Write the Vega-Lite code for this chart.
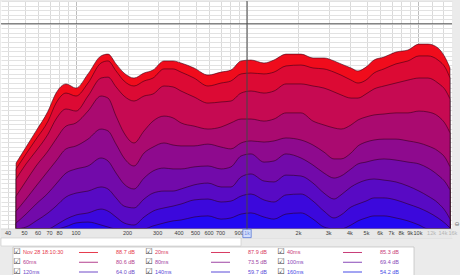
{
"$schema": "https://vega.github.io/schema/vega-lite/v6.json",
"padding": 0,
"spacing": 0,
"bounds": "flush",
"background": "#ebebeb",
"config": {"view": {"stroke": null}, "text": {"font": "Liberation Sans"}},
"resolve": {"scale": {"color": "independent", "x": "independent", "y": "independent"}},
"datasets": {
"wf": [
{"f":44.6,"t":0,"v":28.9},{"f":51,"t":0,"v":35.9},{"f":58.4,"t":0,"v":43.0},{"f":68.6,"t":0,"v":51.7},{"f":76.4,"t":0,"v":59.6},{"f":87.4,"t":0,"v":63.6},{"f":100,"t":0,"v":61.8},{"f":117.5,"t":0,"v":68.0},{"f":140,"t":0,"v":75.9},{"f":153.8,"t":0,"v":76.7},{"f":171.4,"t":0,"v":72.4},{"f":190.9,"t":0,"v":68.4},{"f":218.4,"t":0,"v":66.2},{"f":249.9,"t":0,"v":68.4},{"f":282,"t":0,"v":69.7},{"f":327,"t":0,"v":73.7},{"f":369,"t":0,"v":73.7},{"f":411,"t":0,"v":72.8},{"f":490,"t":0,"v":70.6},{"f":591,"t":0,"v":67.5},{"f":705,"t":0,"v":68.8},{"f":805,"t":0,"v":69.7},{"f":923,"t":0,"v":73.7},{"f":1055,"t":0,"v":74.1},{"f":1257,"t":0,"v":72.8},{"f":1438,"t":0,"v":74.1},{"f":1690,"t":0,"v":76.7},{"f":2069,"t":0,"v":76.7},{"f":2432,"t":0,"v":75.0},{"f":2819,"t":0,"v":75.0},{"f":3227,"t":0,"v":73.7},{"f":3546,"t":0,"v":72.4},{"f":4057,"t":0,"v":70.6},{"f":4457,"t":0,"v":69.3},{"f":4965,"t":0,"v":71.0},{"f":5531,"t":0,"v":74.1},{"f":6326,"t":0,"v":75.4},{"f":7431,"t":0,"v":77.6},{"f":8744,"t":0,"v":78.5},{"f":10140,"t":0,"v":81.1},{"f":11440,"t":0,"v":81.1},{"f":13090,"t":0,"v":79.4},{"f":14580,"t":0,"v":74.5},{"f":15390,"t":0,"v":70.6},
{"f":44.6,"t":20,"v":26.3},{"f":51,"t":20,"v":32.9},{"f":58.4,"t":20,"v":39.4},{"f":68.6,"t":20,"v":47.3},{"f":76.4,"t":20,"v":55.2},{"f":87.4,"t":20,"v":59.6},{"f":100,"t":20,"v":58.3},{"f":117.5,"t":20,"v":64.0},{"f":140,"t":20,"v":72.8},{"f":153.8,"t":20,"v":73.7},{"f":171.4,"t":20,"v":69.3},{"f":190.9,"t":20,"v":64.9},{"f":218.4,"t":20,"v":62.7},{"f":249.9,"t":20,"v":64.9},{"f":282,"t":20,"v":66.2},{"f":327,"t":20,"v":70.2},{"f":369,"t":20,"v":70.2},{"f":411,"t":20,"v":68.8},{"f":490,"t":20,"v":66.2},{"f":591,"t":20,"v":62.7},{"f":705,"t":20,"v":64.0},{"f":805,"t":20,"v":64.9},{"f":923,"t":20,"v":68.0},{"f":1055,"t":20,"v":68.4},{"f":1257,"t":20,"v":68.0},{"f":1438,"t":20,"v":68.8},{"f":1690,"t":20,"v":71.5},{"f":2069,"t":20,"v":71.9},{"f":2432,"t":20,"v":70.6},{"f":2819,"t":20,"v":70.2},{"f":3227,"t":20,"v":68.8},{"f":3546,"t":20,"v":67.5},{"f":4057,"t":20,"v":65.3},{"f":4457,"t":20,"v":64.0},{"f":4965,"t":20,"v":65.3},{"f":5531,"t":20,"v":68.4},{"f":6326,"t":20,"v":70.2},{"f":7431,"t":20,"v":72.4},{"f":8744,"t":20,"v":73.7},{"f":10140,"t":20,"v":75.9},{"f":11440,"t":20,"v":75.9},{"f":13090,"t":20,"v":74.1},{"f":14580,"t":20,"v":70.2},{"f":15390,"t":20,"v":66.2},
{"f":44.6,"t":40,"v":21.9},{"f":51,"t":40,"v":28.5},{"f":58.4,"t":40,"v":34.2},{"f":68.6,"t":40,"v":41.6},{"f":76.4,"t":40,"v":48.2},{"f":87.4,"t":40,"v":52.6},{"f":100,"t":40,"v":51.7},{"f":117.5,"t":40,"v":58.3},{"f":140,"t":40,"v":66.2},{"f":153.8,"t":40,"v":66.6},{"f":171.4,"t":40,"v":62.3},{"f":190.9,"t":40,"v":58.3},{"f":218.4,"t":40,"v":56.1},{"f":249.9,"t":40,"v":58.3},{"f":282,"t":40,"v":59.2},{"f":327,"t":40,"v":62.7},{"f":369,"t":40,"v":62.3},{"f":411,"t":40,"v":60.5},{"f":490,"t":40,"v":57.9},{"f":591,"t":40,"v":55.2},{"f":705,"t":40,"v":55.7},{"f":805,"t":40,"v":56.1},{"f":923,"t":40,"v":59.6},{"f":1055,"t":40,"v":60.5},{"f":1257,"t":40,"v":59.6},{"f":1438,"t":40,"v":60.5},{"f":1690,"t":40,"v":63.6},{"f":2069,"t":40,"v":63.6},{"f":2432,"t":40,"v":62.7},{"f":2819,"t":40,"v":61.8},{"f":3227,"t":40,"v":60.1},{"f":3546,"t":40,"v":58.8},{"f":4057,"t":40,"v":57.4},{"f":4457,"t":40,"v":57.4},{"f":4965,"t":40,"v":59.2},{"f":5531,"t":40,"v":61.4},{"f":6326,"t":40,"v":62.7},{"f":7431,"t":40,"v":64.0},{"f":8744,"t":40,"v":65.3},{"f":10140,"t":40,"v":66.2},{"f":11440,"t":40,"v":66.2},{"f":13090,"t":40,"v":64.0},{"f":14580,"t":40,"v":60.5},{"f":15390,"t":40,"v":57.0},
{"f":44.6,"t":60,"v":14.4},{"f":51,"t":60,"v":21.0},{"f":58.4,"t":60,"v":27.6},{"f":68.6,"t":60,"v":34.2},{"f":76.4,"t":60,"v":39.4},{"f":87.4,"t":60,"v":45.1},{"f":100,"t":60,"v":46.5},{"f":117.5,"t":60,"v":51.7},{"f":140,"t":60,"v":58.3},{"f":153.8,"t":60,"v":57.4},{"f":171.4,"t":60,"v":49.5},{"f":190.9,"t":60,"v":42.1},{"f":218.4,"t":60,"v":37.7},{"f":249.9,"t":60,"v":43.0},{"f":282,"t":60,"v":47.3},{"f":327,"t":60,"v":49.5},{"f":369,"t":60,"v":48.7},{"f":411,"t":60,"v":46.5},{"f":490,"t":60,"v":45.1},{"f":591,"t":60,"v":43.8},{"f":705,"t":60,"v":44.7},{"f":805,"t":60,"v":46.5},{"f":923,"t":60,"v":48.2},{"f":1055,"t":60,"v":48.2},{"f":1257,"t":60,"v":47.3},{"f":1438,"t":60,"v":48.2},{"f":1690,"t":60,"v":50.9},{"f":2069,"t":60,"v":50.9},{"f":2432,"t":60,"v":47.3},{"f":2819,"t":60,"v":45.6},{"f":3227,"t":60,"v":44.3},{"f":3546,"t":60,"v":43.8},{"f":4057,"t":60,"v":45.6},{"f":4457,"t":60,"v":47.8},{"f":4965,"t":60,"v":49.1},{"f":5531,"t":60,"v":50.0},{"f":6326,"t":60,"v":50.4},{"f":7431,"t":60,"v":50.9},{"f":8744,"t":60,"v":50.9},{"f":10140,"t":60,"v":51.7},{"f":11440,"t":60,"v":51.3},{"f":13090,"t":60,"v":49.5},{"f":14580,"t":60,"v":45.6},{"f":15390,"t":60,"v":42.1},
{"f":44.6,"t":80,"v":7.8},{"f":51,"t":80,"v":13.1},{"f":58.4,"t":80,"v":18.8},{"f":68.6,"t":80,"v":25.4},{"f":76.4,"t":80,"v":29.8},{"f":87.4,"t":80,"v":35.1},{"f":100,"t":80,"v":36.4},{"f":117.5,"t":80,"v":39.4},{"f":140,"t":80,"v":43.8},{"f":153.8,"t":80,"v":43.0},{"f":171.4,"t":80,"v":37.2},{"f":190.9,"t":80,"v":31.1},{"f":218.4,"t":80,"v":27.6},{"f":249.9,"t":80,"v":33.3},{"f":282,"t":80,"v":35.9},{"f":327,"t":80,"v":37.7},{"f":369,"t":80,"v":36.8},{"f":411,"t":80,"v":36.4},{"f":490,"t":80,"v":36.4},{"f":591,"t":80,"v":37.2},{"f":705,"t":80,"v":35.9},{"f":805,"t":80,"v":35.1},{"f":923,"t":80,"v":37.7},{"f":1055,"t":80,"v":38.6},{"f":1257,"t":80,"v":38.1},{"f":1438,"t":80,"v":38.6},{"f":1690,"t":80,"v":39.9},{"f":2069,"t":80,"v":39.0},{"f":2432,"t":80,"v":36.8},{"f":2819,"t":80,"v":33.7},{"f":3227,"t":80,"v":30.7},{"f":3546,"t":80,"v":30.7},{"f":4057,"t":80,"v":33.3},{"f":4457,"t":80,"v":36.4},{"f":4965,"t":80,"v":38.1},{"f":5531,"t":80,"v":39.0},{"f":6326,"t":80,"v":39.4},{"f":7431,"t":80,"v":39.4},{"f":8744,"t":80,"v":38.6},{"f":10140,"t":80,"v":37.7},{"f":11440,"t":80,"v":36.4},{"f":13090,"t":80,"v":34.2},{"f":14580,"t":80,"v":30.7},{"f":15390,"t":80,"v":27.2},
{"f":44.6,"t":100,"v":2.6},{"f":51,"t":100,"v":6.5},{"f":58.4,"t":100,"v":10.9},{"f":68.6,"t":100,"v":15.7},{"f":76.4,"t":100,"v":19.7},{"f":87.4,"t":100,"v":24.5},{"f":100,"t":100,"v":26.3},{"f":117.5,"t":100,"v":27.6},{"f":140,"t":100,"v":31.1},{"f":153.8,"t":100,"v":29.8},{"f":171.4,"t":100,"v":24.5},{"f":190.9,"t":100,"v":19.7},{"f":218.4,"t":100,"v":17.5},{"f":249.9,"t":100,"v":22.3},{"f":282,"t":100,"v":25.4},{"f":327,"t":100,"v":26.7},{"f":369,"t":100,"v":26.3},{"f":411,"t":100,"v":26.3},{"f":490,"t":100,"v":27.2},{"f":591,"t":100,"v":27.6},{"f":705,"t":100,"v":26.3},{"f":805,"t":100,"v":27.2},{"f":923,"t":100,"v":32.0},{"f":1055,"t":100,"v":32.9},{"f":1257,"t":100,"v":29.3},{"f":1438,"t":100,"v":29.8},{"f":1690,"t":100,"v":32.9},{"f":2069,"t":100,"v":31.1},{"f":2432,"t":100,"v":28.0},{"f":2819,"t":100,"v":24.5},{"f":3227,"t":100,"v":22.3},{"f":3546,"t":100,"v":23.2},{"f":4057,"t":100,"v":26.3},{"f":4457,"t":100,"v":28.5},{"f":4965,"t":100,"v":29.3},{"f":5531,"t":100,"v":30.2},{"f":6326,"t":100,"v":30.7},{"f":7431,"t":100,"v":30.2},{"f":8744,"t":100,"v":29.3},{"f":10140,"t":100,"v":28.5},{"f":11440,"t":100,"v":26.7},{"f":13090,"t":100,"v":23.6},{"f":14580,"t":100,"v":20.1},{"f":15390,"t":100,"v":17.1},
{"f":44.6,"t":120,"v":0},{"f":51,"t":120,"v":0.8},{"f":58.4,"t":120,"v":3.5},{"f":68.6,"t":120,"v":7.0},{"f":76.4,"t":120,"v":10.0},{"f":87.4,"t":120,"v":14.0},{"f":100,"t":120,"v":15.7},{"f":117.5,"t":120,"v":16.6},{"f":140,"t":120,"v":18.4},{"f":153.8,"t":120,"v":17.5},{"f":171.4,"t":120,"v":13.6},{"f":190.9,"t":120,"v":10.0},{"f":218.4,"t":120,"v":9.2},{"f":249.9,"t":120,"v":13.1},{"f":282,"t":120,"v":15.7},{"f":327,"t":120,"v":16.6},{"f":369,"t":120,"v":16.6},{"f":411,"t":120,"v":17.5},{"f":490,"t":120,"v":19.3},{"f":591,"t":120,"v":20.1},{"f":705,"t":120,"v":18.4},{"f":805,"t":120,"v":18.4},{"f":923,"t":120,"v":22.8},{"f":1055,"t":120,"v":24.1},{"f":1257,"t":120,"v":21.0},{"f":1438,"t":120,"v":20.6},{"f":1690,"t":120,"v":23.6},{"f":2069,"t":120,"v":23.2},{"f":2432,"t":120,"v":20.1},{"f":2819,"t":120,"v":15.7},{"f":3227,"t":120,"v":13.1},{"f":3546,"t":120,"v":14.9},{"f":4057,"t":120,"v":18.4},{"f":4457,"t":120,"v":20.1},{"f":4965,"t":120,"v":21.4},{"f":5531,"t":120,"v":21.9},{"f":6326,"t":120,"v":21.4},{"f":7431,"t":120,"v":20.6},{"f":8744,"t":120,"v":18.8},{"f":10140,"t":120,"v":16.6},{"f":11440,"t":120,"v":14.4},{"f":13090,"t":120,"v":11.4},{"f":14580,"t":120,"v":7.4},{"f":15390,"t":120,"v":4.3},
{"f":44.6,"t":140,"v":0},{"f":51,"t":140,"v":0},{"f":58.4,"t":140,"v":0},{"f":68.6,"t":140,"v":0},{"f":76.4,"t":140,"v":1.7},{"f":87.4,"t":140,"v":4.3},{"f":100,"t":140,"v":6.1},{"f":117.5,"t":140,"v":7.0},{"f":140,"t":140,"v":8.7},{"f":153.8,"t":140,"v":7.8},{"f":171.4,"t":140,"v":5.2},{"f":190.9,"t":140,"v":2.6},{"f":218.4,"t":140,"v":1.7},{"f":249.9,"t":140,"v":5.2},{"f":282,"t":140,"v":7.8},{"f":327,"t":140,"v":9.2},{"f":369,"t":140,"v":10.0},{"f":411,"t":140,"v":10.9},{"f":490,"t":140,"v":12.7},{"f":591,"t":140,"v":13.1},{"f":705,"t":140,"v":11.8},{"f":805,"t":140,"v":12.2},{"f":923,"t":140,"v":14.4},{"f":1055,"t":140,"v":15.3},{"f":1257,"t":140,"v":12.7},{"f":1438,"t":140,"v":11.8},{"f":1690,"t":140,"v":14.9},{"f":2069,"t":140,"v":15.3},{"f":2432,"t":140,"v":12.2},{"f":2819,"t":140,"v":7.8},{"f":3227,"t":140,"v":4.8},{"f":3546,"t":140,"v":6.1},{"f":4057,"t":140,"v":9.6},{"f":4457,"t":140,"v":10.9},{"f":4965,"t":140,"v":12.2},{"f":5531,"t":140,"v":13.6},{"f":6326,"t":140,"v":13.6},{"f":7431,"t":140,"v":12.7},{"f":8744,"t":140,"v":10.9},{"f":10140,"t":140,"v":9.2},{"f":11440,"t":140,"v":7.4},{"f":13090,"t":140,"v":4.8},{"f":14580,"t":140,"v":2.1},{"f":15390,"t":140,"v":0.4},
{"f":44.6,"t":160,"v":0},{"f":51,"t":160,"v":0},{"f":58.4,"t":160,"v":0},{"f":68.6,"t":160,"v":0},{"f":76.4,"t":160,"v":0},{"f":87.4,"t":160,"v":1.0},{"f":100,"t":160,"v":2.6},{"f":117.5,"t":160,"v":3.0},{"f":140,"t":160,"v":1.7},{"f":153.8,"t":160,"v":0.8},{"f":171.4,"t":160,"v":0},{"f":190.9,"t":160,"v":0},{"f":218.4,"t":160,"v":0},{"f":249.9,"t":160,"v":0},{"f":282,"t":160,"v":1.3},{"f":327,"t":160,"v":2.6},{"f":369,"t":160,"v":3.5},{"f":411,"t":160,"v":3.9},{"f":490,"t":160,"v":5.2},{"f":591,"t":160,"v":5.7},{"f":705,"t":160,"v":4.3},{"f":805,"t":160,"v":4.8},{"f":923,"t":160,"v":6.5},{"f":1055,"t":160,"v":7.0},{"f":1257,"t":160,"v":5.2},{"f":1438,"t":160,"v":4.3},{"f":1690,"t":160,"v":6.5},{"f":2069,"t":160,"v":7.0},{"f":2432,"t":160,"v":4.3},{"f":2819,"t":160,"v":0.8},{"f":3227,"t":160,"v":0},{"f":3546,"t":160,"v":0},{"f":4057,"t":160,"v":1.7},{"f":4457,"t":160,"v":3.5},{"f":4965,"t":160,"v":4.8},{"f":5531,"t":160,"v":5.7},{"f":6326,"t":160,"v":5.7},{"f":7431,"t":160,"v":4.8},{"f":8744,"t":160,"v":3.5},{"f":10140,"t":160,"v":1.7},{"f":11440,"t":160,"v":0},{"f":13090,"t":160,"v":0},{"f":14580,"t":160,"v":0},{"f":15390,"t":160,"v":0}
],
"ticks": [
{"f":40,"lab":"40"},{"f":50,"lab":"50"},{"f":60,"lab":"60"},{"f":70,"lab":"70"},{"f":80,"lab":"80"},{"f":100,"lab":"100"},{"f":200,"lab":"200"},{"f":300,"lab":"300"},{"f":400,"lab":"400"},{"f":500,"lab":"500"},{"f":600,"lab":"600"},{"f":700,"lab":"700"},{"f":900,"lab":"900"},{"f":2000,"lab":"2k"},{"f":3000,"lab":"3k"},{"f":4000,"lab":"4k"},{"f":5000,"lab":"5k"},{"f":6000,"lab":"6k"},{"f":7000,"lab":"7k"},{"f":8000,"lab":"8k"},{"f":9000,"lab":"9k"},{"f":10000,"lab":"10k"},{"f":12000,"lab":"12k"},{"f":14000,"lab":"14k"},{"f":16000,"lab":"16k"}
],
"legend": [
{"c":0,"r":1,"name":"Nov 28 18:10:30","val":"88.7 dB","t":0},
{"c":1,"r":1,"name":"20ms","val":"87.9 dB","t":20},
{"c":2,"r":1,"name":"40ms","val":"85.3 dB","t":40},
{"c":0,"r":2,"name":"60ms","val":"80.6 dB","t":60},
{"c":1,"r":2,"name":"80ms","val":"73.5 dB","t":80},
{"c":2,"r":2,"name":"100ms","val":"69.4 dB","t":100},
{"c":0,"r":3,"name":"120ms","val":"64.0 dB","t":120},
{"c":1,"r":3,"name":"140ms","val":"59.7 dB","t":140},
{"c":2,"r":3,"name":"160ms","val":"54.2 dB","t":160}
]
},
"vconcat": [
{
"width": 451,
"height": 237,
"view": {"fill": "white", "stroke": null},
"layer": [
{
"data": {"name": "wf"},
"mark": {"type": "area", "interpolate": "monotone", "stroke": "#2a0012", "strokeWidth": 0.9, "strokeOpacity": 0.6, "clip": true},
"encoding": {
"x": {"field": "f", "type": "quantitative", "scale": {"type": "log", "domain": [36.4, 15810], "nice": false},
"axis": {"values": [40,50,60,70,80,90,100,200,300,400,500,600,700,800,900,1000,2000,3000,4000,5000,6000,7000,8000,9000,10000,12000,14000,16000], "grid": true, "labels": false, "ticks": false, "domain": false, "title": null, "minExtent": 0, "maxExtent": 0,
"gridColor": {"condition": {"test": "datum.value == 100 || datum.value == 10000", "value": "#bdbdbd"}, "value": "#dadada"}, "gridWidth": 1}},
"y": {"field": "v", "type": "quantitative", "stack": null, "scale": {"domain": [-4, 100], "nice": false, "zero": false},
"axis": {"tickCount": 52, "grid": true, "labels": false, "ticks": false, "domain": false, "title": null, "minExtent": 0, "maxExtent": 0, "gridColor": "#e2e2e2", "gridWidth": 1}},
"y2": {"datum": 0},
"color": {"field": "t", "type": "ordinal", "legend": null,
"scale": {"domain": [0,20,40,60,80,100,120,140,160], "range": ["#f00c1c","#dc0a34","#c60a52","#aa0a70","#8e0a8e","#720aaa","#580ac4","#3c08dc","#2208f2"]}}
}
},
{
"data": {"values": [{}]},
"mark": {"type": "rect", "color": "#e8e8e8"},
"encoding": {"y": {"datum": -4}, "y2": {"datum": 0}}
},
{
"data": {"values": [{"lvl": 0}]},
"mark": {"type": "rule", "color": "#c4c4c4", "strokeWidth": 0.6},
"encoding": {"y": {"field": "lvl", "type": "quantitative"}}
},
{
"data": {"name": "ticks"},
"mark": {"type": "text", "fontSize": 5.5, "baseline": "middle", "align": "center"},
"encoding": {
"x": {"field": "f", "type": "quantitative"},
"y": {"datum": -2},
"text": {"field": "lab"},
"color": {"condition": {"test": "datum.f > 11000", "value": "#b4b4b4"}, "value": "#3c3c3c"}
}
},
{
"data": {"values": [{"lvl": 90}]},
"mark": {"type": "rule", "color": "#555555", "strokeWidth": 1},
"encoding": {"y": {"field": "lvl", "type": "quantitative"}}
},
{
"data": {"values": [{"cur": 1000}]},
"mark": {"type": "rule", "color": "#444444", "strokeWidth": 1},
"encoding": {"x": {"field": "cur", "type": "quantitative"}, "y": {"datum": 100}, "y2": {"datum": -1.2}}
},
{
"data": {"values": [{"cur": 1000}]},
"mark": {"type": "point", "shape": "square", "size": 70, "filled": true, "color": "#d2ddfb", "stroke": "#5a78d8", "strokeWidth": 0.8, "opacity": 1},
"encoding": {"x": {"field": "cur", "type": "quantitative"}, "y": {"datum": -2}}
},
{
"data": {"values": [{"cur": 1000, "lab": "1k"}]},
"mark": {"type": "text", "fontSize": 5, "baseline": "middle", "align": "center", "color": "#6a88e0"},
"encoding": {"x": {"field": "cur", "type": "quantitative"}, "y": {"datum": -2}, "text": {"field": "lab"}}
},
{
"data": {"values": [{"f": 16900, "icon": "⊖"}]},
"mark": {"type": "text", "fontSize": 6, "baseline": "middle", "align": "center", "color": "#707070", "font": "DejaVu Sans"},
"encoding": {"x": {"field": "f", "type": "quantitative"}, "y": {"datum": 2}, "text": {"field": "icon"}}
}
]
},
{
"width": 460,
"height": 38,
"layer": [
{
"data": {"values": [{}]},
"mark": {"type": "rect", "color": "white", "stroke": "#c8c8c8", "strokeWidth": 0.6},
"encoding": {
"x": {"datum": -0.1212, "type": "quantitative", "scale": {"domain": [-0.1212, 3.3636], "nice": false, "zero": false}, "axis": null},
"x2": {"datum": 1.697},
"y": {"datum": -0.487, "type": "quantitative", "scale": {"domain": [-0.487, 3.41], "nice": false, "zero": false, "reverse": true}, "axis": null},
"y2": {"datum": 0.333}
}
},
{
"data": {"values": [{}]},
"mark": {"type": "rect", "color": "white", "stroke": "#b4b4b4", "strokeWidth": 0.6},
"encoding": {
"x": {"datum": -0.0303, "type": "quantitative"},
"x2": {"datum": 3.0076},
"y": {"datum": 0.436, "type": "quantitative"},
"y2": {"datum": 3.41}
}
},
{
"data": {"name": "legend"},
"mark": {"type": "text", "fontSize": 8, "font": "DejaVu Sans", "color": "#333333", "align": "center", "baseline": "middle"},
"encoding": {"x": {"field": "c", "type": "quantitative"}, "y": {"field": "r", "type": "quantitative"}, "text": {"value": "☑"}}
},
{
"data": {"name": "legend"},
"mark": {"type": "text", "fontSize": 5.5, "align": "left", "baseline": "middle", "dx": 6},
"encoding": {
"x": {"field": "c", "type": "quantitative"}, "y": {"field": "r", "type": "quantitative"},
"text": {"field": "name"},
"color": {"field": "t", "type": "ordinal", "legend": null,
"scale": {"domain": [0,20,40,60,80,100,120,140,160], "range": ["#e63a4c","#d83a62","#c83c78","#b4408e","#9e44a4","#8848b8","#704ac8","#5a4ad8","#464ae6"]}}
}
},
{
"data": {"name": "legend"},
"mark": {"type": "rule", "strokeWidth": 1, "xOffset": 62, "x2Offset": 81},
"encoding": {
"x": {"field": "c", "type": "quantitative"}, "x2": {"field": "c"}, "y": {"field": "r", "type": "quantitative"},
"color": {"field": "t", "type": "ordinal", "legend": null,
"scale": {"domain": [0,20,40,60,80,100,120,140,160], "range": ["#e63a4c","#d83a62","#c83c78","#b4408e","#9e44a4","#8848b8","#704ac8","#5a4ad8","#464ae6"]}}
}
},
{
"data": {"name": "legend"},
"mark": {"type": "text", "fontSize": 5.5, "align": "left", "baseline": "middle", "dx": 99},
"encoding": {
"x": {"field": "c", "type": "quantitative"}, "y": {"field": "r", "type": "quantitative"},
"text": {"field": "val"},
"color": {"field": "t", "type": "ordinal", "legend": null,
"scale": {"domain": [0,20,40,60,80,100,120,140,160], "range": ["#e63a4c","#d83a62","#c83c78","#b4408e","#9e44a4","#8848b8","#704ac8","#5a4ad8","#464ae6"]}}
}
}
]
}
]
}
